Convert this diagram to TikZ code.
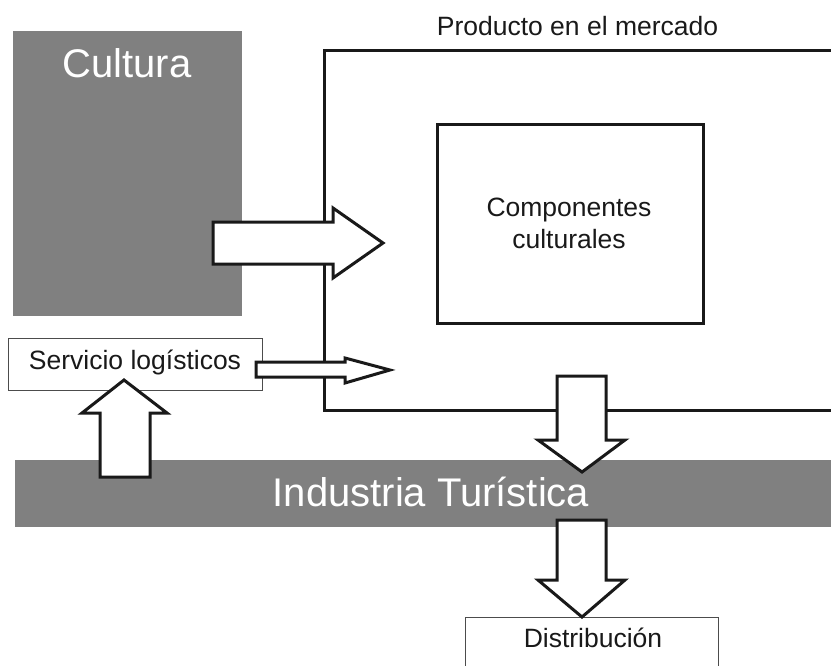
\documentclass[tikz,border=0pt]{standalone}
\usepackage{fontspec}
\setmainfont{Liberation Sans}
\begin{document}
\begin{tikzpicture}[x=1pt,y=-1pt,
  graybox/.style={fill=black!50, draw=none, inner sep=0pt},
  framebox/.style={draw=black!90, line width=3pt, fill=white, inner sep=0pt},
  thinbox/.style={draw=black!70, line width=1pt, fill=white, inner sep=0pt},
  bigtxt/.style={text=white, font=\fontsize{40}{48}\selectfont, inner sep=0pt},
  smalltxt/.style={text=black!90, font=\fontsize{26.5}{32}\selectfont, inner sep=0pt, align=center},
  blockarrow/.style={draw=black!90, fill=white, line width=3pt, line join=miter}]
\useasboundingbox (0,0) rectangle (831,665);
% gray boxes
\node[graybox, minimum width=229pt, minimum height=285pt] (cultura) at (127.5,173.5) {};
\node[bigtxt] (culturatxt) at (127,63) {Cultura};
\node[graybox, minimum width=825pt, minimum height=67pt] (industria) at (427.5,493.5) {};
\node[bigtxt] (industriatxt) at (431,492) {Industria Turística};
% product box
\node[framebox, fill=none, minimum width=520pt, minimum height=360pt] (producto) at (584,230) {};
\node[smalltxt] (productotxt) at (577.5,26) {Producto en el mercado};
\node[framebox, minimum width=266pt, minimum height=199pt] (componentes) at (570,223.5) {};
\node[smalltxt] (componentestxt) at (569,223) {Componentes\\culturales};
% thin boxes
\node[thinbox, minimum width=254pt, minimum height=52pt] (servicio) at (135,364) {};
\node[smalltxt] (serviciotxt) at (135,362) {Servicio logísticos};
\node[thinbox, minimum width=253pt, minimum height=63pt] (distribucion) at (591.5,648.5) {};
\node[smalltxt] (distribuciontxt) at (593,638) {Distribución};
% block arrows
\draw[blockarrow] (213,222)--(333,222)--(333,208)--(383,243)--(333,278)--(333,264)--(213,264)--cycle;
\draw[blockarrow] (256,362)--(345,362)--(345,358)--(390,370)--(345,383)--(345,377)--(256,377)--cycle;
\draw[blockarrow] (100,477)--(100,413)--(82,413)--(124,380)--(167,413)--(150,413)--(150,477)--cycle;
\draw[blockarrow] (557,376)--(606,376)--(606,440)--(625,440)--(582,472)--(538,440)--(557,440)--cycle;
\draw[blockarrow] (557,520)--(606,520)--(606,580)--(625,580)--(582,617)--(538,580)--(557,580)--cycle;
\end{tikzpicture}
\end{document}
